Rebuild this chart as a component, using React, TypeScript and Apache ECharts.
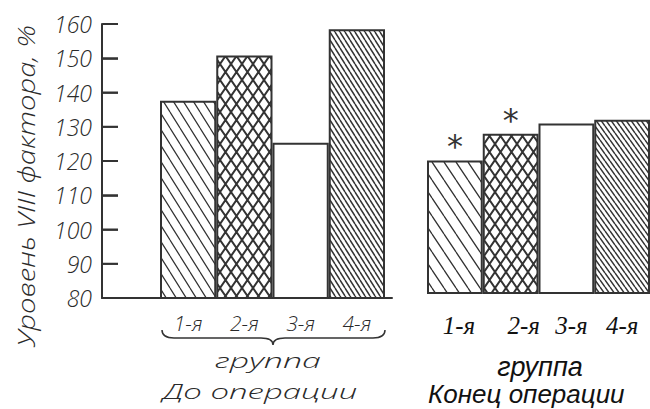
import React, { useEffect, useRef } from "react";
import * as echarts from "echarts";

const categories = ["1-я", "2-я", "3-я", "4-я"];
const beforeValues = [137.6, 150.8, 125.3, 158.5];
const endValues = [118.7, 126.5, 129.5, 130.6];
const endSignificant = [true, true, false, false];
const yMin = 80;
const yMax = 160;
const yStep = 10;
const yAxisTitle = "Уровень VIII фактора, %";
const groupWord = "группа";
const beforeTitle = "До операции";
const endTitle = "Конец операции";

type HatchKind = "back" | "cross" | "none";

function makeHatch(kind: HatchKind, w: number, h: number, lw: number): any {
  if (kind === "none") return "#ffffff";
  const c = document.createElement("canvas");
  c.width = w;
  c.height = h;
  const ctx = c.getContext("2d")!;
  ctx.fillStyle = "#ffffff";
  ctx.fillRect(0, 0, w, h);
  ctx.strokeStyle = "#333333";
  ctx.lineWidth = lw;
  ctx.beginPath();
  for (let k = -1; k <= 1; k++) {
    ctx.moveTo(k * w, 0);
    ctx.lineTo(k * w + w, h);
    if (kind === "cross") {
      ctx.moveTo(k * w, h);
      ctx.lineTo(k * w + w, 0);
    }
  }
  ctx.stroke();
  return { image: c.toDataURL(), repeat: "repeat", imageWidth: w, imageHeight: h };
}

const techFont = {
  fontFamily: "Open Sans",
  fontStyle: "italic" as const,
  fontWeight: 300 as any,
  color: "#2a2a2a",
};

const rightLabelShift = [8, 26, 10, 0];

export default function App() {
  const ref = useRef<HTMLDivElement>(null);
  useEffect(() => {
    if (!ref.current) return;
    echarts.graphic.registerShape(
      "brace",
      echarts.graphic.extendPath(
        "M0,0 Q0,8 12,8 L99,8 Q111,8 111,15 Q111,8 123,8 L211,8 Q223,8 223,0",
        {}
      )
    );
    const chart = echarts.init(ref.current, null, { renderer: "svg" });

    const leftPatterns = [
      makeHatch("back", 10, 16, 1.2),
      makeHatch("cross", 11, 16, 2),
      makeHatch("none", 1, 1, 1),
      makeHatch("back", 5, 8, 1.5),
    ];
    const rightPatterns = [
      makeHatch("back", 12, 18, 1.3),
      makeHatch("cross", 11, 16, 2),
      makeHatch("none", 1, 1, 1),
      makeHatch("back", 5, 7, 1.5),
    ];

    const rich: any = {};
    rightLabelShift.forEach((s, i) => {
      rich["l" + i] = {
        fontSize: 25,
        fontStyle: "italic",
        fontFamily: "Liberation Serif",
        color: "#111",
        padding: [0, 0, 0, s],
      };
    });

    const yRich: any = {
      n: { fontSize: 23, ...techFont },
      g: { width: 11, fontSize: 10, color: "rgba(0,0,0,0)" },
      t: { width: 15, height: 2, fontSize: 2, color: "rgba(0,0,0,0)", backgroundColor: "#333", verticalAlign: "middle" },
    };

    const textStyleTech = (size: number) => ({
      fontSize: size,
      fontFamily: "Open Sans",
      fontStyle: "italic",
      fontWeight: 300,
      fill: "#2a2a2a",
      align: "center",
      verticalAlign: "middle",
    });

    const option: any = {
      animation: false,
      backgroundColor: "#ffffff",
      grid: [
        { left: 102, top: 24, width: 290, height: 274 },
        { left: 160, top: 24, width: 225, height: 274 },
        { left: 427, top: 19, width: 224, height: 274 },
      ],
      xAxis: [
        {
          type: "value",
          gridIndex: 0,
          min: 0,
          max: 290,
          axisLine: { show: true, onZero: false, lineStyle: { color: "#333", width: 2 } },
          axisTick: { show: false },
          axisLabel: { show: false },
          splitLine: { show: false },
        },
        {
          type: "category",
          gridIndex: 1,
          data: categories,
          axisLine: { show: false },
          axisTick: { show: false },
          axisLabel: { margin: 14, fontSize: 21, ...techFont },
        },
        {
          type: "category",
          gridIndex: 2,
          data: categories,
          axisLine: { show: false },
          axisTick: { show: false },
          axisLabel: {
            margin: 20,
            formatter: (v: string) => {
              const i = categories.indexOf(v);
              return "{l" + i + "|" + v + "}";
            },
            rich,
          },
        },
      ],
      yAxis: [
        {
          type: "value",
          gridIndex: 0,
          min: yMin,
          max: yMax,
          interval: yStep,
          z: 10,
          axisLine: { show: true, onZero: false, lineStyle: { color: "#333", width: 2 } },
          axisTick: { show: true, inside: true, length: 16, lineStyle: { color: "#333", width: 1.6 } },
          splitLine: { show: false },
          axisLabel: {
            margin: -16,
            formatter: (v: number) => "{n|" + v + "}{g| }{t| }",
            rich: yRich,
          },
        },
        { type: "value", gridIndex: 1, min: yMin, max: yMax, show: false },
        { type: "value", gridIndex: 2, min: yMin, max: yMax, show: false },
      ],
      series: [
        {
          type: "bar",
          xAxisIndex: 1,
          yAxisIndex: 1,
          barCategoryGap: "0%",
          data: beforeValues.map((v, i) => ({
            value: v,
            itemStyle: { color: leftPatterns[i], borderColor: "#333", borderWidth: 2 },
          })),
        },
        {
          type: "bar",
          xAxisIndex: 2,
          yAxisIndex: 2,
          barCategoryGap: "0%",
          data: endValues.map((v, i) => ({
            value: v,
            itemStyle: { color: rightPatterns[i], borderColor: "#333", borderWidth: 2 },
            label: {
              show: endSignificant[i],
              position: "top",
              distance: -2,
              formatter: "*",
              fontSize: 32,
              fontFamily: "DejaVu Sans",
              color: "#333",
            },
          })),
        },
      ],
      graphic: [
        {
          type: "text",
          x: 26,
          y: 186,
          rotation: Math.PI / 2,
          scaleX: 1.22,
          style: { text: yAxisTitle, ...textStyleTech(24) },
        },
        {
          type: "brace",
          x: 162,
          y: 330,
          style: { stroke: "#333", fill: null, lineWidth: 1.5 },
        },
        {
          type: "text",
          x: 268,
          y: 360,
          scaleX: 1.7,
          style: { text: groupWord, ...textStyleTech(20) },
        },
        {
          type: "text",
          x: 260,
          y: 391,
          scaleX: 1.65,
          style: { text: beforeTitle, ...textStyleTech(20) },
        },
        {
          type: "text",
          x: 540,
          y: 367,
          style: {
            text: groupWord,
            align: "center",
            verticalAlign: "middle",
            fontSize: 27,
            fontFamily: "Liberation Sans",
            fontStyle: "italic",
            fill: "#111",
          },
        },
        {
          type: "text",
          x: 428,
          y: 394,
          style: {
            text: endTitle,
            align: "left",
            verticalAlign: "middle",
            fontSize: 26,
            fontFamily: "Liberation Sans",
            fontStyle: "italic",
            fill: "#111",
          },
        },
      ],
    };
    chart.setOption(option);
    return () => chart.dispose();
  }, []);
  return (
    <div
      ref={ref}
      style={{ position: "fixed", left: 0, top: 0, width: 650, height: 409, background: "#fff" }}
    />
  );
}
